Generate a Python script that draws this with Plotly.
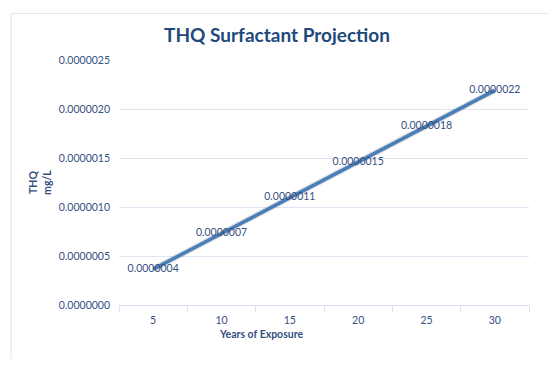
import plotly.graph_objects as go

# 数据
years = ["5", "10", "15", "20", "25", "30"]
thq = [0.000000365, 0.00000073, 0.000001095, 0.00000146, 0.000001825, 0.00000219]

TEXT = "#34507f"
FONT = "Lato"

fig = go.Figure()

# 线条阴影
fig.add_trace(go.Scatter(
    x=years, y=thq, mode="lines",
    line=dict(color="rgba(80,80,80,0.18)", width=6),
    hoverinfo="skip", showlegend=False,
))
fig.add_trace(go.Scatter(
    x=years, y=thq, mode="lines+text",
    line=dict(color="#4a7ebb", width=3.5),
    text=[f"{v:.7f}" for v in thq],
    textposition="middle center",
    textfont=dict(family=FONT, size=10.5, color=TEXT),
    cliponaxis=False,
    showlegend=False,
))

# 页面 body 有 8px 边距，尺寸相应缩小
fig.update_layout(
    width=549, height=369,
    margin=dict(l=111, r=28, t=52, b=72),
    paper_bgcolor="white", plot_bgcolor="white",
    font=dict(family=FONT, size=10.5, color=TEXT),
    title=dict(text="<b>THQ Surfactant Projection</b>", x=0.49, xanchor="center",
               y=0.927, yanchor="middle",
               font=dict(family=FONT, size=19, color="#1f497d")),
    showlegend=False,
)

fig.update_xaxes(
    type="category", range=[-0.5, 5.5], tickson="boundaries",
    ticks="outside", ticklen=6, ticklabelstandoff=5,
    tickcolor="#d9e1f2", showline=True, linecolor="#d9e1f2", showgrid=False,
    tickfont=dict(size=10.5, color=TEXT),
)
fig.update_yaxes(
    range=[0, 0.0000025], dtick=0.0000005, tickformat=".7f",
    showgrid=True, gridcolor="#dce6f2", zeroline=False, showline=False,
    ticks="", ticklabelstandoff=8,
    tickfont=dict(size=10.5, color=TEXT),
)

# 坐标轴标题
fig.add_annotation(text="<b>Years of Exposure</b>", x=0.346, y=-0.118,
                   xref="paper", yref="paper", showarrow=False,
                   xanchor="center", yanchor="middle",
                   font=dict(size=10.5, color=TEXT))
fig.add_annotation(text="<b>THQ<br>mg/L</b>", x=-0.193, y=0.502,
                   xref="paper", yref="paper", showarrow=False, textangle=-90,
                   xanchor="center", yanchor="middle",
                   font=dict(size=10.5, color=TEXT))

# 图表边框（只有上边和左边可见）
fig.add_shape(type="line", xref="paper", yref="paper",
              x0=-0.263, x1=1.2, y0=1.19, y1=1.19,
              line=dict(color="#dde6f0", width=1))
fig.add_shape(type="line", xref="paper", yref="paper",
              x0=-0.263, x1=-0.263, y0=1.19, y1=-0.22,
              line=dict(color="#dde6f0", width=1))

fig.write_html("out.html")
